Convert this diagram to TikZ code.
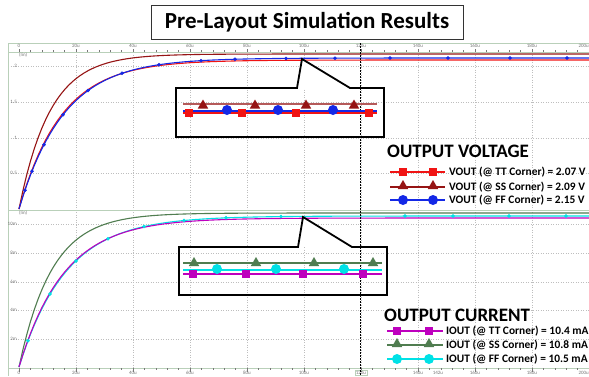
\documentclass[tikz,border=0pt]{standalone}
\usepackage{fontspec}
\setmainfont{Carlito}
\setsansfont{Carlito}
\usetikzlibrary{shapes.geometric}
\definecolor{redc}{RGB}{240,20,20}
\definecolor{ssc}{RGB}{150,20,20}
\definecolor{bluec}{RGB}{20,40,230}
\definecolor{magc}{RGB}{190,0,190}
\definecolor{grnc}{RGB}{80,125,80}
\definecolor{cyac}{RGB}{0,225,230}
\definecolor{axc}{RGB}{185,208,185}
\definecolor{gridc}{RGB}{190,190,190}
\definecolor{tickc}{RGB}{120,120,120}
\begin{document}
\begin{tikzpicture}[x=1pt,y=-1pt,
  tl/.style={font=\fontsize{5}{6}\selectfont, text=tickc, inner sep=0},
  gridl/.style={draw=gridc, dotted, line width=0.5},
  axl/.style={draw=axc, line width=0.7},
  callout/.style={draw=black, line width=1.8, fill=white},
  sqm/.style={rectangle, fill=#1, minimum size=8.5, inner sep=0},
  trim/.style={regular polygon, regular polygon sides=3, fill=#1, minimum size=12, inner sep=0},
  cim/.style={circle, fill=#1, minimum size=10, inner sep=0},
  legtxt/.style={font=\bfseries\fontsize{11.4}{13}\selectfont, anchor=west, inner sep=0},
  legtitle/.style={font=\bfseries\fontsize{19}{22}\selectfont, anchor=west, inner sep=0},
  curve/.style={line width=1.1, draw=#1}
]
\useasboundingbox (0,0) rectangle (589,376);
\fill[white] (0,0) rectangle (589,376);

% grid
\foreach \g in {76,133,190,247,304,361,418,475,532} \draw[gridl] (\g,52) -- (\g,368);
\foreach \g in {66,102,138,173,224,253,282,310,339} \draw[gridl] (8,\g) -- (589,\g);

% axes
\draw[axl] (8,43) -- (589,43);
\draw[axl] (8,52) -- (589,52);
\draw[axl] (8,43) -- (8,376);
\draw[axl] (8,210) -- (589,210);
\draw[axl] (8,368) -- (589,368);
\foreach \k in {0,...,50} {
  \pgfmathsetmacro{\tx}{19+11.4*\k}
  \pgfmathsetmacro{\tlen}{mod(\k,5)==0 ? 3.5 : 2}
  \draw[draw=tickc, line width=0.4] (\tx,52) -- ++(0,-\tlen);
  \draw[draw=tickc, line width=0.4] (\tx,368) -- ++(0,\tlen);
}
\foreach \l [count=\i from 0] in {0,20u,40u,60u,80u,100u,120u,140u,160u,180u}
  \node[tl] (tt\i) at (19+57*\i,46) {\l};
\node[tl, anchor=east] (tt10) at (589,46) {200u};
\foreach \l/\px [count=\i] in {0/19,20u/76,40u/133,60u/190,80u/247,100u/304,140u/418,142u/438,160u/475,180u/532}
  \node[tl] (bt\i) at (\px,373) {\l};
\node[tl, anchor=east] (bt200) at (589,373) {200u};
\node[tl, draw=axc, line width=0.5, inner sep=0.8] (bt120) at (361,373) {120u};
\node[tl, anchor=west] (lin1) at (19,55.5) {(lin)};
\node[tl, anchor=west] (lin2) at (19,213.5) {(lin)};
\foreach \l/\py [count=\i] in {2/66,1.5/102,1/138,0.5/173,10m/224,8m/253,6m/282,4m/310,2m/339}
  \node[tl, anchor=east] (yl\i) at (17,\py) {\l};

% top curves
\draw[curve=ssc] plot[domain=19:589, samples=150] (\x,{54+155*exp(-(\x-19)/31)});
\draw[curve=redc] plot[domain=19:589, samples=150] (\x,{60+149*exp(-(\x-19)/42.75)});
\draw[curve=bluec] plot[domain=19:589, samples=150] (\x,{58+151*exp(-(\x-19)/45)});
\fill[ssc] plot[only marks, mark=triangle*, mark size=2, samples at={23,30,42,58,81,119,158,203,247,291,341,385,433,478,528,573}] (\x,{54+155*exp(-(\x-19)/31)});
\fill[redc] plot[only marks, mark=square*, mark size=1.5, samples at={24,33,45,68,128,168,204,247,278,320,356,401,438,488,524,557}] (\x,{60+149*exp(-(\x-19)/42.75)});
\fill[bluec] plot[only marks, mark=*, mark size=1.6, samples at={25,32,44,63,88,122,159,201,235,286,335,390,448,510,567}] (\x,{58+151*exp(-(\x-19)/45)});

% bottom curves
\draw[curve=grnc] plot[domain=19:589, samples=150] (\x,{213+154*exp(-(\x-19)/32.8)});
\draw[curve=cyac] plot[domain=19:589, samples=150] (\x,{216+151*exp(-(\x-19)/47)});
\draw[curve=magc] plot[domain=19:589, samples=150] (\x,{218+149*exp(-(\x-19)/45)});
\fill[grnc] plot[only marks, mark=triangle*, mark size=2, samples at={27,42,64,101,148,197,249,298,351,411,464,522,574}] (\x,{213+154*exp(-(\x-19)/32.8)});
\fill[cyac] plot[only marks, mark=*, mark size=1.6, samples at={28,50,76,108,144,184,226,281,405,453,509,566}] (\x,{216+151*exp(-(\x-19)/47)});
\fill[magc] plot[only marks, mark=square*, mark size=1.5, samples at={26,47,71,101,141,188,237,287,342,391,444,493,546}] (\x,{218+149*exp(-(\x-19)/45)});

% callouts
\fill[white] (176,88) -- (297,88) -- (302,59) -- (350,88) -- (384,88) -- (384,137) -- (176,137) -- cycle;
\fill[white] (179,247) -- (298,247) -- (303,217) -- (352,247) -- (387,247) -- (387,295) -- (179,295) -- cycle;
\begin{scope}
  \clip (176,88) rectangle (384,137);
  \foreach \g in {190,247,304,361} \draw[gridl] (\g,52) -- (\g,368);
  \foreach \g in {102,138} \draw[gridl] (8,\g) -- (589,\g);
\end{scope}
\begin{scope}
  \clip (179,247) rectangle (387,295);
  \foreach \g in {190,247,304,361} \draw[gridl] (\g,52) -- (\g,368);
  \foreach \g in {253,282} \draw[gridl] (8,\g) -- (589,\g);
\end{scope}
\draw[dash pattern=on 1.5pt off 1.5pt, line width=0.6] (360,43) -- (360,376);
\draw[callout, fill=none, line join=miter] (176,88) -- (297,88) -- (302,59) -- (350,88) -- (384,88) -- (384,137) -- (176,137) -- cycle;
\draw[callout, fill=none, line join=miter] (179,247) -- (298,247) -- (303,217) -- (352,247) -- (387,247) -- (387,295) -- (179,295) -- cycle;

% top callout content
\draw[draw=ssc!70, line width=1.2] (183,104) -- (377,104);
\draw[draw=bluec, line width=1.4] (183,111) -- (377,111);
\draw[draw=redc, line width=1.8] (183,113) -- (377,113);
\foreach \p [count=\i] in {203,255,306,354} \node[trim=ssc] (zt\i) at (\p,105.5) {};
\foreach \p [count=\i] in {227,278,333} \node[cim=bluec] (zc\i) at (\p,110) {};
\foreach \p [count=\i] in {189,242,296,369} \node[sqm=redc] (zs\i) at (\p,113) {};

% bottom callout content
\draw[draw=grnc, line width=1.2] (183,263) -- (382,263);
\draw[draw=cyac, line width=1.8] (183,270) -- (382,270);
\draw[draw=magc, line width=1.8] (183,274) -- (382,274);
\foreach \p [count=\i] in {194,256,314,373} \node[trim=grnc] (bz\i) at (\p,263) {};
\foreach \p [count=\i] in {217,276,344} \node[cim=cyac] (bc\i) at (\p,269) {};
\foreach \p [count=\i] in {193,246,303,363} \node[sqm=magc] (bs\i) at (\p,274) {};

% title
\node[draw=black!80, line width=0.9, fill=white, minimum width=312, minimum height=34, inner sep=0,
      font=\bfseries\fontsize{23}{26}\selectfont] (title) at (307,22) {Pre-Layout Simulation Results};

% legend top
\node[legtitle] (vt) at (387,151) {OUTPUT VOLTAGE};
\draw[draw=redc, line width=2.2] (390,172) -- (445,172);
\node[sqm=redc] (lv1a) at (403,172) {}; \node[sqm=redc] (lv1b) at (433,172) {};
\node[legtxt] (lv1) at (449,172) {VOUT (@ TT Corner) = 2.07 V};
\draw[draw=ssc, line width=2.2] (390,187) -- (445,187);
\node[trim=ssc] (lv2a) at (403,186) {}; \node[trim=ssc] (lv2b) at (433,186) {};
\node[legtxt] (lv2) at (449,187) {VOUT (@ SS Corner) = 2.09 V};
\draw[draw=bluec, line width=2.2] (390,200) -- (445,200);
\node[cim=bluec] (lv3a) at (403,200) {}; \node[cim=bluec] (lv3b) at (433,200) {};
\node[legtxt] (lv3) at (449,200) {VOUT (@ FF Corner) = 2.15 V};

% legend bottom
\node[legtitle] (it) at (384,315) {OUTPUT CURRENT};
\draw[draw=magc, line width=2.2] (387,331) -- (443,331);
\node[sqm=magc] (li1a) at (397,331) {}; \node[sqm=magc] (li1b) at (429,331) {};
\node[legtxt] (li1) at (446,331) {IOUT (@ TT Corner) = 10.4 mA};
\draw[draw=grnc, line width=2.2] (387,345) -- (443,345);
\node[trim=grnc] (li2a) at (397,344) {}; \node[trim=grnc] (li2b) at (429,344) {};
\node[legtxt] (li2) at (446,345) {IOUT (@ SS Corner) = 10.8 mA};
\draw[draw=cyac, line width=2.2] (387,359) -- (443,359);
\node[cim=cyac] (li3a) at (397,359) {}; \node[cim=cyac] (li3b) at (429,359) {};
\node[legtxt] (li3) at (446,359) {IOUT (@ FF Corner) = 10.5 mA};
\end{tikzpicture}
\end{document}
